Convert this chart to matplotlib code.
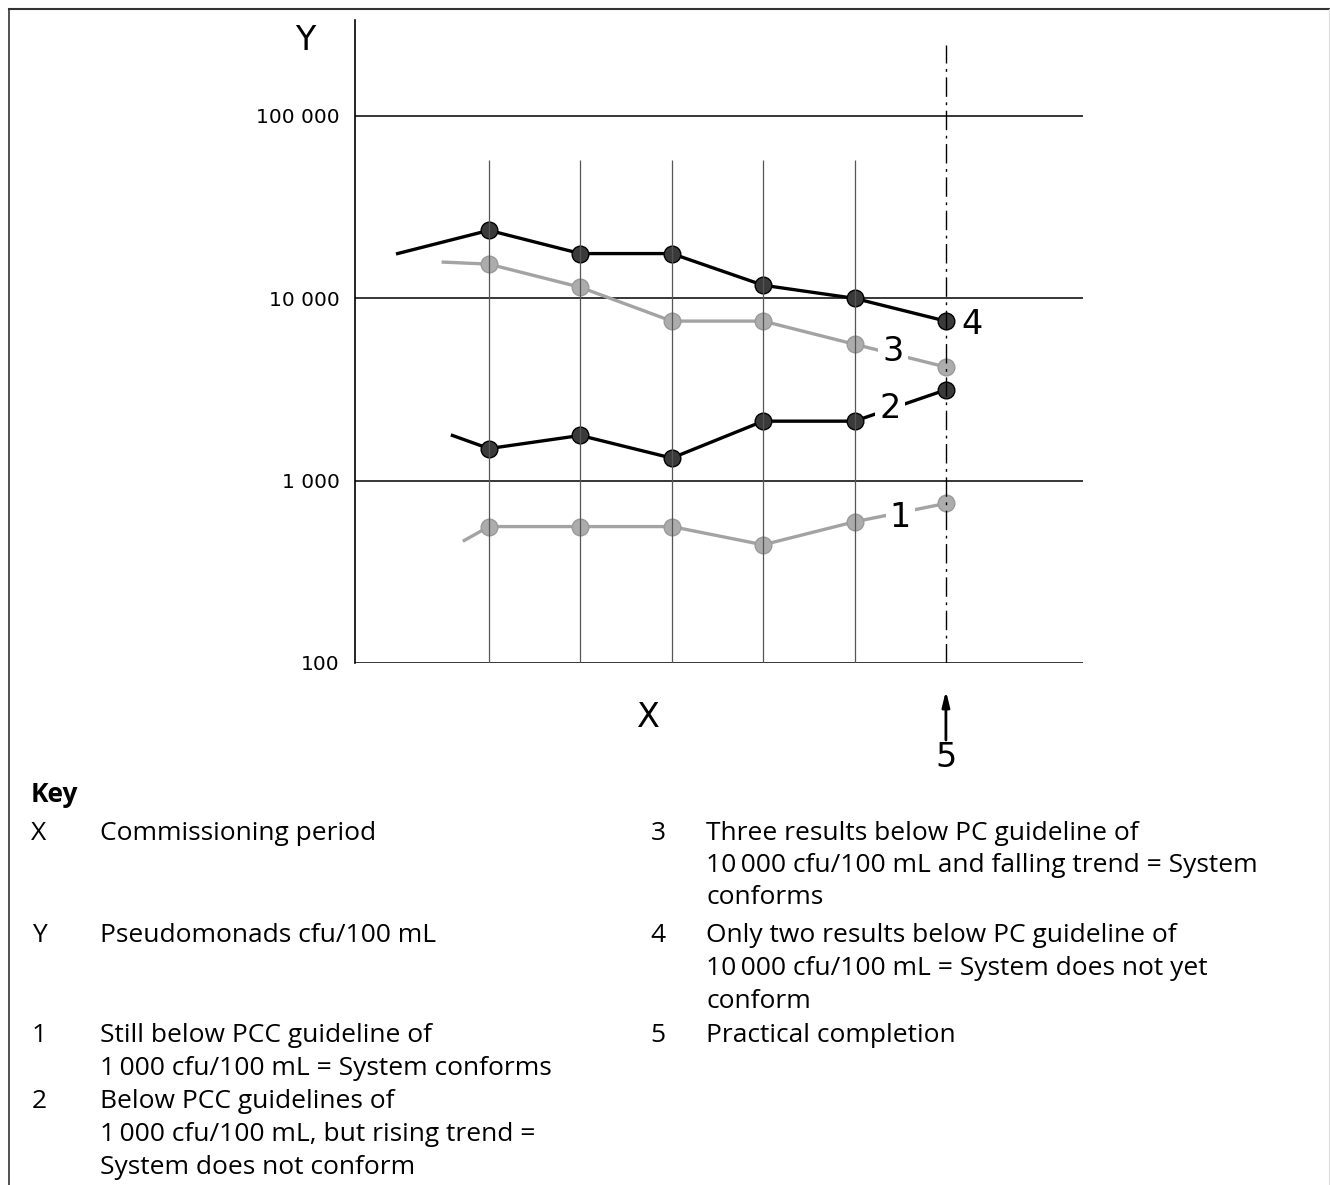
import numpy as np
import matplotlib
matplotlib.use("Agg")
import matplotlib.pyplot as plt
from matplotlib.lines import Line2D

# ==========================================================
# DADOS
# ==========================================================
periodo = [1, 2, 3, 4, 5, 6]          # colunas do periodo de comissionamento
conclusao = 6                          # conclusao pratica (5)

# curva 4 (preta, superior)
x4 = [0.0] + periodo
y4 = [17600, 23600, 17600, 17600, 11800, 10000, 7500]
# curva 3 (cinza, superior)
x3 = [0.5] + periodo
y3 = [15800, 15400, 11500, 7500, 7500, 5600, 4200]
# curva 2 (preta, inferior)
x2 = [0.6] + periodo
y2 = [1770, 1500, 1770, 1330, 2120, 2120, 3150]
# curva 1 (cinza, inferior)
x1 = [0.73] + periodo
y1 = [470, 560, 560, 560, 445, 595, 750]

yticks = [100, 1000, 10000, 100000]
ytick_labels = ["100", "1 000", "10 000", "100 000"]

key_left = [
    ("X", ["Commissioning period"]),
    ("Y", ["Pseudomonads cfu/100 mL"]),
    ("1", ["Still below PCC guideline of", "1\u2009000 cfu/100 mL = System conforms"]),
    ("2", ["Below PCC guidelines of", "1\u2009000 cfu/100 mL, but rising trend =",
           "System does not conform"]),
]
key_right = [
    ("3", ["Three results below PC guideline of",
           "10\u2009000 cfu/100 mL and falling trend = System", "conforms"]),
    ("4", ["Only two results below PC guideline of",
           "10\u2009000 cfu/100 mL = System does not yet", "conform"]),
    ("5", ["Practical completion"]),
]

# ==========================================================
# FIGURA
# ==========================================================
W, H = 1330, 1185
fig = plt.figure(figsize=(W / 100, H / 100), dpi=100)

def fx(px):
    return px / W

def fy(py):
    return 1 - py / H

# moldura
fig.add_artist(Line2D([fx(9), fx(9)], [fy(1185), fy(9)], color="#333333", lw=1.2))
fig.add_artist(Line2D([fx(9), fx(1329)], [fy(9), fy(9)], color="#333333", lw=1.5))
fig.add_artist(Line2D([fx(1329), fx(1329)], [fy(1185), fy(9)], color="#dddddd", lw=0.8))

ax = fig.add_axes([fx(355), fy(663), fx(1083) - fx(355), fy(20) - fy(663)])
ax.set_yscale("log")
ax.set_xlim(-0.466, 7.5)
ax.set_ylim(100, 10 ** 5.5265)

for s in ["top", "right", "bottom"]:
    ax.spines[s].set_visible(False)
ax.spines["left"].set_linewidth(1.2)
ax.set_xticks([])
ax.set_yticks(yticks)
ax.set_yticklabels(ytick_labels, fontsize=14.5, family="DejaVu Sans")
ax.yaxis.set_minor_locator(matplotlib.ticker.NullLocator())
ax.tick_params(axis="y", length=0, pad=11)

for v in yticks:
    ax.axhline(v, color="black", lw=1.1, zorder=1)

ax.vlines(periodo[:-1], 100, 57400, color="#555555", lw=0.9, zorder=4)
ax.vlines(conclusao, 100, 245000, color="black", lw=1.0,
          linestyles=[(0, (14, 4, 2, 4))], zorder=4)

preto = dict(color="black", lw=2.4, marker="o", markersize=12,
             markerfacecolor="#3a3a3a", markeredgecolor="black", markeredgewidth=1.0)
cinza = dict(color="#a3a3a3", lw=2.4, marker="o", markersize=12,
             markerfacecolor="#acacac", markeredgecolor="#9a9a9a", markeredgewidth=1.0)

ax.plot(x4, y4, markevery=list(range(1, len(x4))), zorder=3, **preto)
ax.plot(x3, y3, markevery=list(range(1, len(x3))), zorder=3, **cinza)
ax.plot(x2, y2, markevery=list(range(1, len(x2))), zorder=3, **preto)
ax.plot(x1, y1, markevery=list(range(1, len(x1))), zorder=3, **cinza)

lbl = dict(fontsize=24, family="DejaVu Sans", ha="center", va="center", zorder=5)
caixa = dict(facecolor="white", edgecolor="none", pad=3)
ax.text(5.42, 5080, "3", bbox=caixa, **lbl)
ax.text(5.39, 2500, "2", bbox=caixa, **lbl)
ax.text(5.50, 630, "1", bbox=caixa, **lbl)
ax.text(6.28, 7150, "4", **lbl)

ax.text(-1.01, 261000, "Y", clip_on=False, **lbl)
ax.text(2.74, 50, "X", clip_on=False, **lbl)
ax.text(conclusao, 30.5, "5", clip_on=False, **lbl)
ax.annotate("", xy=(conclusao, 70.5), xytext=(conclusao, 37.8),
            arrowprops=dict(arrowstyle="-|>,head_length=0.9,head_width=0.22", lw=2,
                            color="black", shrinkA=0, shrinkB=0),
            annotation_clip=False)

# ==========================================================
# LEGENDA (Key)
# ==========================================================
fk = "Open Sans"
fs = 19
passo = 32.5
fig.text(fx(31), fy(795), "Key", fontsize=fs, family=fk, weight="bold", va="center")

def escreve(entradas, y_inicio, x_num, x_txt):
    for (num, linhas), y0 in zip(entradas, y_inicio):
        fig.text(fx(x_num), fy(y0), num, fontsize=fs, family=fk, ha="center", va="center")
        for i, t in enumerate(linhas):
            fig.text(fx(x_txt), fy(y0 + i * passo), t, fontsize=fs, family=fk, va="center")

escreve(key_left, [833, 936, 1036, 1102], 39, 100)
escreve(key_right, [833, 936, 1036], 658, 706)

fig.savefig("out.png", dpi=100)
